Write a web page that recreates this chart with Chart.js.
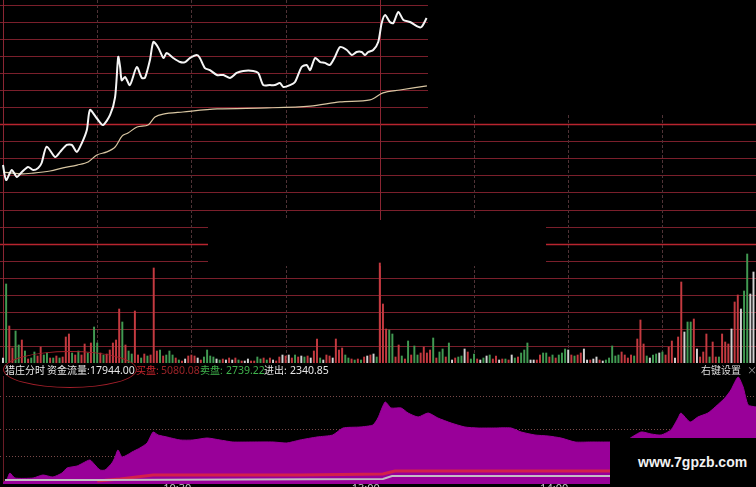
<!DOCTYPE html>
<html>
<head>
<meta charset="utf-8">
<script src="https://cdn.jsdelivr.net/npm/chart.js@4/dist/chart.umd.min.js"></script>
<style>
  html, body { margin: 0; padding: 0; background: #000; overflow: hidden; }
  #wrap { position: relative; width: 756px; height: 487px; background: #000; overflow: hidden; }
  canvas { position: absolute; left: 0; }
  #topChart { top: 0; }
  #flowChart { top: 376px; }
  .lbl { position: absolute; top: 363px; font: 10px "Noto Sans CJK SC", "Noto Sans", sans-serif; line-height: 14px; white-space: nowrap; }
  .num { font: 10.5px "Noto Sans", sans-serif; }
  #ring { position: absolute; left: 3px; top: 351px; width: 132px; height: 35px; border: 1px solid #a31f2a; border-radius: 50%; }
  #mark { position: absolute; left: 610px; top: 438px; width: 146px; height: 49px; background: #000; }
  #mark span { position: absolute; left: 28px; top: 16px; font: bold 14px "Liberation Sans", Arial, sans-serif; color: #f2f2f2; }
</style>
</head>
<body>
<div id="wrap">
  <canvas id="topChart" width="756" height="363"></canvas>
  <canvas id="flowChart" width="756" height="122"></canvas>
  <div id="ring"></div>
  <span class="lbl" style="left:5px;color:#e8e8e8">猎庄分时</span>
  <span class="lbl" style="left:47px;color:#e8e8e8">资金流量:</span>
  <span class="lbl num" style="left:90px;color:#e8e8e8">17944.00</span>
  <span class="lbl" style="left:136px;color:#c9262e">买盘:</span>
  <span class="lbl num" style="left:161px;color:#9c2428">5080.08</span>
  <span class="lbl" style="left:200px;color:#3fb24c">卖盘:</span>
  <span class="lbl num" style="left:226px;color:#3fb24c">2739.22</span>
  <span class="lbl" style="left:264px;color:#e8e8e8">进出:</span>
  <span class="lbl num" style="left:290px;color:#e8e8e8">2340.85</span>
  <span class="lbl" style="left:701px;color:#dedede">右键设置</span>
  <span class="lbl" style="left:747px;color:#9a9a9a">×</span>
  <div id="mark"><span>www.7gpzb.com</span></div>
</div>
<script>
// minutes since 9:30 (0..239), price / average in grid units
const priceMin = [0, 1, 2.8, 4.4, 6, 8, 9.6, 11.2, 12.3, 13.9, 16.6, 18.2, 20.3, 21.9, 23.5, 25.1, 26.7, 27.7, 29.8, 31.8,
  34.1, 35.7, 36.7, 37.3, 37.8, 38.9, 40.4, 42.6, 44.2, 45.2, 46.8, 47.9, 49.5, 51.1, 52.1, 54.2, 56.4, 58, 59.6, 61.7,
  62.7, 64.3, 65.9, 68.1, 70.2, 72.3, 74.4, 76.5, 79.7, 81.3, 82.9, 85, 86.6, 88.2, 89.3, 91.4, 93, 95.1, 96.7, 97.8,
  99.4, 101, 102.5, 104.1, 105.7, 107.3, 109.5, 111.1, 112.6, 114.2, 115.3, 116.3, 117.9, 119.5, 120.6, 121.7, 123.2, 124.3, 125.9, 127.5,
  129.6, 132.3, 133.3, 134.9];
const priceVal = [11.61, 10.73, 11.32, 10.91, 11.2, 11.5, 11.32, 11.44, 11.73, 12.69, 12.08, 12.38, 12.79, 12.79, 12.38, 12.9, 13.67, 14.84, 14.37, 13.96,
  14.55, 15.6, 17.95, 17.36, 16.58, 16.77, 16.3, 17.36, 16.72, 16.72, 17.77, 18.83, 18.48, 17.89, 18.18, 17.89, 17.65, 17.65, 17.89, 18.06,
  17.89, 17.3, 17.18, 16.89, 16.89, 16.72, 17.01, 17.13, 17.13, 17.01, 16.3, 16.3, 16.3, 16.42, 16.19, 16.3, 16.48, 17.36, 17.48, 17.18,
  17.89, 17.65, 17.6, 17.48, 17.95, 18.53, 18.36, 18.06, 18.24, 18.24, 18.06, 18.24, 18.36, 18.83, 19.94, 20.41, 20.0, 19.94, 20.59, 20.12,
  20.0, 19.71, 19.71, 20.23];
const avgMin = [0, 5.4, 9.6, 15, 19.1, 23.6, 27.1, 29.9, 33.1, 35.7, 37.9, 39.8, 42.7, 46.2, 48.4, 51, 57.3, 68.2, 84.1, 97.8, 107.3, 116.9, 121, 126.4, 135];
const avgVal = [11.2, 11.09, 11.14, 11.26, 11.44, 11.61, 11.79, 12.2, 12.38, 12.67, 13.31, 13.49, 13.84, 13.96, 14.43, 14.6, 14.72, 14.9, 14.96, 15.07, 15.31, 15.43, 15.84, 16.01, 16.25];

// one bar per minute
const volValues = [
  5, 79, 37, 15, 32, 18, 23, 12, 4, 5,
  11, 7, 16, 8, 10, 5, 5, 7, 5, 6,
  26, 29, 10, 8, 12, 8, 19, 10, 20, 36,
  20, 10, 8, 9, 13, 20, 23, 54, 41, 18,
  12, 9, 52, 8, 5, 9, 7, 8, 95, 12,
  13, 7, 8, 12, 8, 5, 3, 2, 4, 7,
  8, 7, 5, 3, 6, 13, 7, 6, 4, 3,
  4, 3, 5, 3, 5, 3, 2, 2, 4, 2,
  2, 6, 4, 5, 3, 5, 3, 2, 6, 8,
  7, 8, 5, 8, 6, 7, 6, 7, 5, 12,
  24, 5, 3, 8, 7, 5, 24, 13, 15, 8,
  5, 4, 3, 4, 3, 6, 7, 8, 9, 6,
  100, 59, 34, 33, 29, 6, 18, 7, 4, 22,
  8, 17, 8, 10, 16, 10, 13, 25, 5, 11,
  14, 6, 20, 3, 5, 6, 7, 14, 11, 4,
  9, 4, 3, 5, 7, 8, 4, 7, 3, 4,
  4, 3, 8, 5, 6, 10, 13, 20, 3, 3,
  3, 8, 10, 10, 6, 8, 5, 8, 10, 14,
  13, 8, 7, 8, 10, 14, 3, 3, 4, 6,
  3, 2, 3, 5, 17, 7, 8, 11, 8, 5,
  8, 7, 24, 43, 19, 7, 5, 8, 9, 10,
  11, 8, 16, 22, 5, 26, 81, 31, 41, 41,
  44, 14, 6, 11, 29, 6, 21, 6, 6, 29,
  21, 19, 34, 61, 68, 54, 72, 109, 69, 91
];
const volSides =
  'wgrrggrgrg' + 'grrggrgrgr' + 'rrgrgrrgrg' + 'grgrrrrrgr' + 'ggrrgrgrrr' +
  'grgggrgrwr' + 'rrwrggggwg' + 'rwrwrgrwwr' + 'rggrgrwrrw' + 'rwrgrwgrwr' +
  'rgwrrwrrrg' + 'grgrgrwrwg' + 'rrrggrrgrg' + 'rggrrrrgrg' + 'grgwrggwrg' +
  'grwgwgrrwr' + 'grwgrgggww' + 'rrggrgrggg' + 'wrgrrwwrww' + 'rwgggggrrr' +
  'rgrrrgwggw' + 'grrrwrrwgg' + 'rwrrrgrrgr' + 'rrwrrwggww';

const flowMin = [0, 1.3, 2.2, 3.8, 9.6, 12.7, 15.9, 18.8, 20.4, 23.6, 25.5, 27.7, 29.3, 30.9, 32.5, 34.7, 35.7, 36.6, 37.9, 39.5,
  41.1, 43.6, 45.9, 47.8, 49.4, 52.2, 56.4, 60.5, 65, 69.1, 73.2, 79.6, 86, 90.4, 94.6, 100, 105, 108.3, 113.7, 117.8,
  119.4, 121.7, 123.6, 126.8, 129, 132.2, 135.4, 138.5, 142.7, 147.1, 151.3, 156.7, 161.8, 165, 169.4, 173.6, 177.7, 182.2, 187.3, 193.3,
  198, 203.2, 206.4, 209.6, 212.7, 215, 215.9, 218.8, 221.3, 224.5, 226.8, 229.9, 231.8, 234.1, 235.7, 237.3, 239.8];
const flowVal = [1, 5, 11, 6, 6, 9, 7, 11, 16, 18, 21, 24, 19, 14, 14, 21, 27, 34, 27, 29,
  32, 36, 41, 52, 49, 47, 44, 44, 46, 44, 42, 42, 42, 41, 44, 47, 49, 56, 57, 59,
  66, 82, 76, 76, 71, 67, 71, 66, 61, 57, 56, 56, 56, 52, 49, 48, 46, 42, 42, 42,
  43, 52, 50, 49, 54, 66, 71, 62, 67, 71, 77, 86, 94, 107, 97, 79, 77];
const buyMin = [30, 37.3, 47.8, 94.6, 121, 124.8, 239.8];
const buyVal = [3, 5, 9, 9, 10, 13, 13];
const netMin = [0.6, 30, 121, 123.9, 239.8];
const netVal = [4, 4, 5, 8, 8];

const tickMinutes = [60, 120, 180];
const tickLabels = ['10:30', '13:00', '14:00'];

const sideColor = { r: '#c43a40', g: '#419a52', w: '#d2d2d2' };
const pts = (xs, ys) => xs.map((m, i) => ({ x: m, y: ys[i] }));

const xMin = -0.955, xMax = 239.8;

const gridPlugin = {
  id: 'grid',
  beforeDatasetsDraw(chart) {
    const { ctx, scales: { x, y } } = chart;
    ctx.save();
    for (let u = 1; u <= 21; u++) {
      const py = Math.round(y.getPixelForValue(u)) + 0.5;
      const bright = u === 7 || u === 14;
      ctx.strokeStyle = bright ? '#b8242f' : '#7a1f2b';
      ctx.lineWidth = bright ? 1.6 : 1;
      ctx.beginPath(); ctx.moveTo(0, py); ctx.lineTo(756, py); ctx.stroke();
    }
    ctx.lineWidth = 1;
    ctx.setLineDash([3, 2]);
    ctx.strokeStyle = '#4f3236';
    [30, 60, 90, 150, 180, 210].forEach(m => {
      const px = Math.round(x.getPixelForValue(m)) + 0.5;
      ctx.beginPath(); ctx.moveTo(px, 0); ctx.lineTo(px, 363); ctx.stroke();
    });
    ctx.setLineDash([]);
    ctx.strokeStyle = '#8a2532';
    [0, 120].forEach(m => {
      const px = Math.round(x.getPixelForValue(m)) + 0.5;
      ctx.beginPath(); ctx.moveTo(px, 0); ctx.lineTo(px, 363); ctx.stroke();
    });
    ctx.fillStyle = '#000';
    ctx.fillRect(428, 0, 328, 115);
    ctx.fillRect(208, 220, 338, 46);
    ctx.restore();
  }
};

new Chart(document.getElementById('topChart'), {
  type: 'line',
  data: {
    datasets: [
      { type: 'line', data: pts(priceMin, priceVal), borderColor: '#f5f5f5', borderWidth: 2, pointRadius: 0, tension: 0.25, order: 0 },
      { type: 'line', data: pts(avgMin, avgVal), borderColor: '#d8c6a2', borderWidth: 1.2, pointRadius: 0, tension: 0.3, order: 1 },
      { type: 'bar', yAxisID: 'yv', data: volValues.map((v, i) => ({ x: i, y: v })),
        backgroundColor: volValues.map((v, i) => sideColor[volSides[i]]), barThickness: 1.3, order: 2 }
    ]
  },
  options: {
    responsive: false, animation: false, events: [],
    layout: { padding: 0 },
    plugins: { legend: { display: false }, tooltip: { enabled: false } },
    scales: {
      x: { type: 'linear', min: xMin, max: xMax, offset: false, display: false },
      y: { min: 0, max: 21.29, display: false },
      yv: { min: 0, max: 363, display: false }
    }
  },
  plugins: [gridPlugin]
});

const flowGrid = {
  id: 'flowGrid',
  beforeDatasetsDraw(chart) {
    const { ctx, scales: { x, y } } = chart;
    ctx.save();
    ctx.setLineDash([1, 2]);
    ctx.strokeStyle = '#7a4a4a';
    [88, 55, 28].forEach(v => {
      const py = Math.round(y.getPixelForValue(v)) + 0.5;
      ctx.beginPath(); ctx.moveTo(0, py); ctx.lineTo(756, py); ctx.stroke();
    });
    ctx.setLineDash([]);
    ctx.strokeStyle = '#6a1c26';
    const px = Math.round(x.getPixelForValue(0)) + 0.5;
    ctx.beginPath(); ctx.moveTo(px, chart.chartArea.top); ctx.lineTo(px, chart.chartArea.bottom); ctx.stroke();
    ctx.restore();
  }
};

new Chart(document.getElementById('flowChart'), {
  type: 'line',
  data: {
    datasets: [
      { data: pts(netMin, netVal), borderColor: '#c4bcc4', borderWidth: 2, pointRadius: 0, order: 0 },
      { data: pts(buyMin, buyVal), borderColor: '#d3204c', borderWidth: 3, pointRadius: 0, order: 1 },
      { data: pts(flowMin, flowVal), borderColor: '#990099', borderWidth: 1, backgroundColor: '#990099',
        fill: 'origin', pointRadius: 0, tension: 0.2, order: 2 }
    ]
  },
  options: {
    responsive: false, animation: false, events: [],
    layout: { padding: 0 },
    plugins: { legend: { display: false }, tooltip: { enabled: false } },
    scales: {
      x: {
        type: 'linear', min: xMin, max: xMax,
        grid: { display: false, drawTicks: false }, border: { display: false },
        afterBuildTicks: s => { s.ticks = tickMinutes.map(v => ({ value: v })); },
        afterFit: s => { s.height = 14; },
        ticks: { color: '#c8c8c8', font: { size: 11, family: 'Noto Sans' }, padding: -2, align: 'end',
          maxRotation: 0, autoSkip: false, callback: (v, i) => tickLabels[i] }
      },
      y: { min: 0, max: 108, display: false }
    }
  },
  plugins: [flowGrid]
});
</script>
</body>
</html>
